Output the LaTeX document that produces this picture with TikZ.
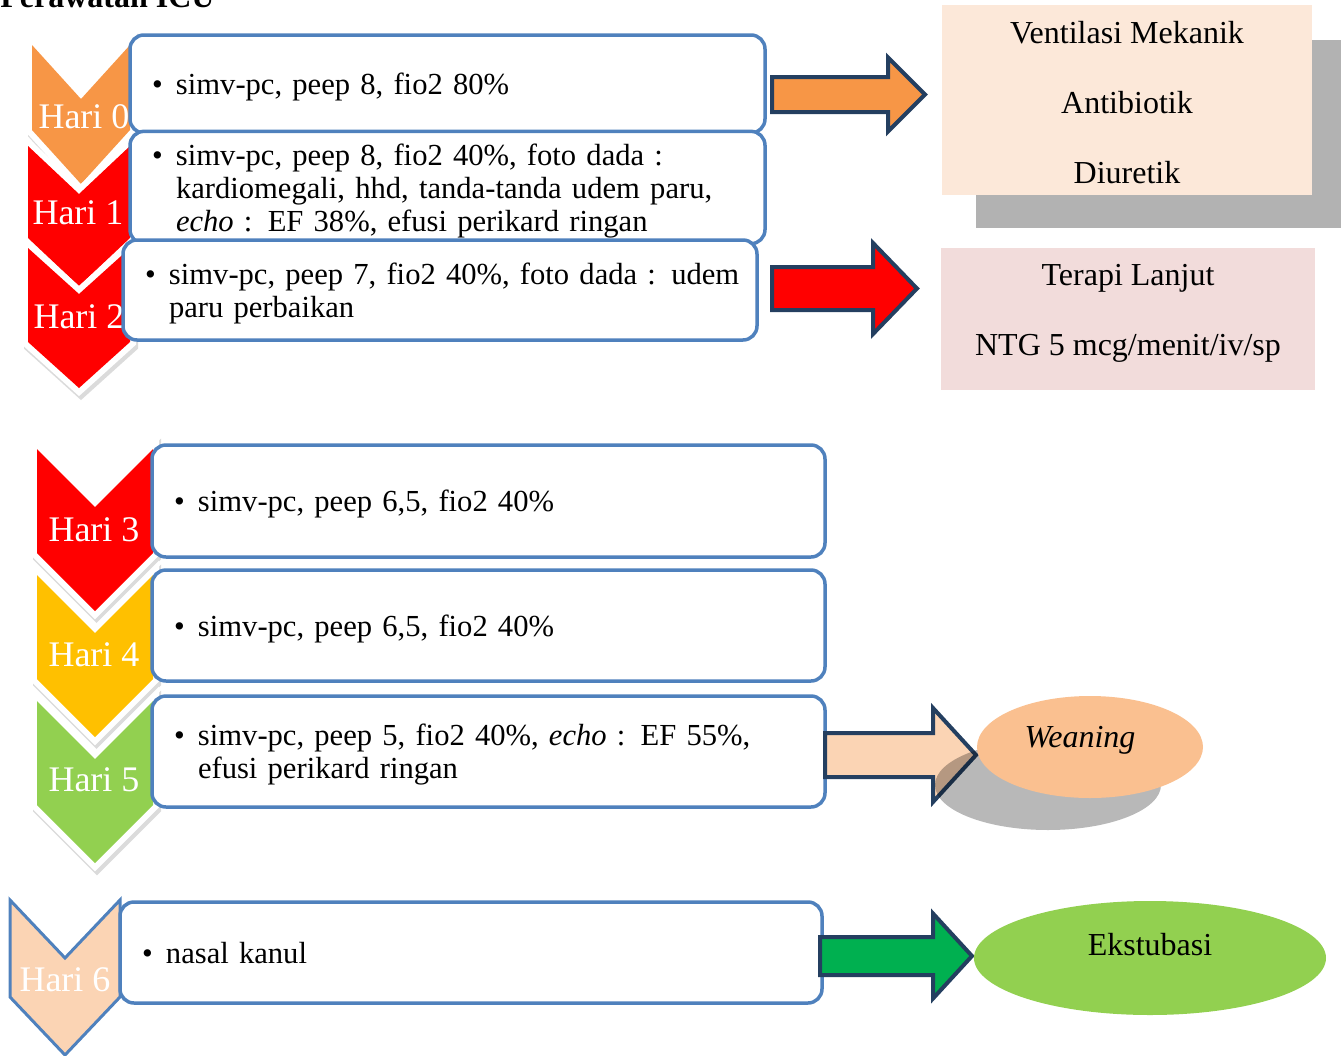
\documentclass[tikz,border=0pt]{standalone}
\usepackage{fontspec}
\setmainfont{Liberation Serif}
\usetikzlibrary{shapes.geometric, calc, positioning}

\definecolor{boxblue}{HTML}{4F81BD}
\definecolor{navy}{HTML}{243F60}
\definecolor{orangefill}{HTML}{F79646}
\definecolor{goldfill}{HTML}{FFC000}
\definecolor{limegreen}{HTML}{92D050}
\definecolor{darkgreen}{HTML}{00B050}
\definecolor{peach}{HTML}{FBD4B4}
\definecolor{vmfill}{HTML}{FCE8D9}
\definecolor{tlfill}{HTML}{F2DCDB}
\definecolor{weanfill}{HTML}{FAC090}
\definecolor{shadowgray}{HTML}{B2B2B2}

% chevron: centre x, top, half width, notch depth, height
\newcommand{\chevpath}[5]{(#1-#3,#2) -- (#1,#2+#4) -- (#1+#3,#2) -- (#1+#3,#2+#5-#4) -- (#1,#2+#5) -- (#1-#3,#2+#5-#4) -- cycle}
\newcommand{\chevron}[6]{%
  \filldraw[chevshadow, shift={(2,4)}] \chevpath{#1}{#2}{#3}{#4}{#5};
  \filldraw[chevhalo] \chevpath{#1}{#2}{#3}{#4}{#5};
  \fill[#6] \chevpath{#1}{#2}{#3}{#4}{#5};}
% block arrow: fill, from, to, shaft half, head half, head length
\newcommand{\blockarrow}[6]{%
  \filldraw[barrow, fill=#1] let \p1=(#2), \p2=(#3) in
    (\x1,\y1+#4*0.5pt) -- (\x2-#6*0.5pt,\y1+#4*0.5pt) -- (\x2-#6*0.5pt,\y1+#5*0.5pt) -- (\x2,\y1)
    -- (\x2-#6*0.5pt,\y1-#5*0.5pt) -- (\x2-#6*0.5pt,\y1-#4*0.5pt) -- (\x1,\y1-#4*0.5pt) -- cycle;}
\newcommand{\itm}[1]{\raisebox{-2pt}[\height][\depth]{\makebox[12pt][l]{\textbullet}\begin{tabular}[t]{@{}l@{}}#1\end{tabular}}}

\begin{document}
\begin{tikzpicture}[x=0.5pt, y=-0.5pt]
    \tikzstyle{chevshadow} = [fill=black!14, draw=black!14, line width=6pt, line join=miter]
    \tikzstyle{chevhalo} = [fill=white, draw=white, line width=6pt, line join=miter]
    \tikzstyle{hari} = [text=white, font=\fontsize{18}{20}\selectfont, inner sep=0pt]
    \tikzstyle{txtbox} = [rectangle, rounded corners=7pt, draw=boxblue, line width=1.75pt, fill=white, inner xsep=11pt, align=left, font=\fontsize{15.3}{16.5}\selectfont]
    \tikzstyle{rbox} = [rectangle, inner sep=0pt]
    \tikzstyle{rtext} = [align=center, font=\fontsize{16}{18}\selectfont, inner sep=0pt]
    \tikzstyle{barrow} = [draw=navy, line width=2pt, line join=miter]
    \tikzstyle{oval} = [ellipse, inner sep=0pt]

    \useasboundingbox (0,0) rectangle (1341,1056);

    \node[anchor=base west, font=\bfseries\fontsize{16}{18}\selectfont, inner sep=0pt] (title) at (0,7) {Perawatan ICU};

    \chevron{81}{45}{49}{54}{139}{orangefill}
    \node[hari] (h0) at (84,117) {Hari 0};
    \chevron{79}{146}{51}{48}{140}{red}
    \node[hari] (h1) at (78,213) {Hari 1};
    \chevron{79}{248}{51}{46}{140}{red}
    \node[hari] (h2) at (79,317) {Hari 2};

    \chevron{95}{449}{58}{58}{162}{red}
    \node[hari] (h3) at (94,530) {Hari 3};
    \chevron{95}{575}{58}{58}{162}{goldfill}
    \node[hari] (h4) at (94,655) {Hari 4};
    \chevron{95}{701}{58}{58}{162}{limegreen}
    \node[hari] (h5) at (94,780) {Hari 5};

    \filldraw[fill=peach, draw=boxblue, line width=1.5pt, line join=miter] \chevpath{65}{900}{55}{58}{155};
    \node[hari] (h6) at (65,980) {Hari 6};

    \node[txtbox, minimum width=317.5pt, minimum height=49pt, text width=295.5pt] (b0) at (447.5,84) {\itm{simv-pc, peep 8, fio2 80\%}};
    \node[txtbox, minimum width=317.5pt, minimum height=49.5pt, text width=295.5pt] (b1) at (447.5,187.5) {\itm{simv-pc, peep 8, fio2 40\%, foto dada :\\kardiomegali, hhd, tanda-tanda udem paru,\\\textit{echo} : EF 38\%, efusi perikard ringan}};
    \node[txtbox, minimum width=317pt, minimum height=50pt, text width=295pt] (b2) at (440,290) {\itm{simv-pc, peep 7, fio2 40\%, foto dada : udem\\paru perbaikan}};

    \node[txtbox, minimum width=336.5pt, minimum height=56pt, text width=314.5pt] (b3) at (488.5,501) {\itm{simv-pc, peep 6,5, fio2 40\%}};
    \node[txtbox, minimum width=336.5pt, minimum height=55.5pt, text width=314.5pt] (b4) at (488.5,625.5) {\itm{simv-pc, peep 6,5, fio2 40\%}};
    \node[txtbox, minimum width=336.5pt, minimum height=55.5pt, text width=314.5pt] (b5) at (488.5,751.5) {\itm{simv-pc, peep 5, fio2 40\%, \textit{echo} : EF 55\%,\\efusi perikard ringan}};

    \node[txtbox, minimum width=351pt, minimum height=50.5pt, text width=329pt] (b6) at (471,952.5) {\itm{nasal kanul}};

    \fill[shadowgray] (976,40) rectangle (1341,228);
    \node[rbox, fill=vmfill, minimum width=185pt, minimum height=95pt] (vm) at (1127,100) {};
    \node[rtext] (vmtx) at (1127,103) {Ventilasi Mekanik\\[17pt]Antibiotik\\[17pt]Diuretik};
    \node[rbox, fill=tlfill, minimum width=187pt, minimum height=71pt] (tl) at (1128,319) {};
    \node[rtext] (tltx) at (1128,313) {Terapi Lanjut\\[17pt]NTG 5 mcg/menit/iv/sp};

    \coordinate (a0s) at (772,94.5);
    \coordinate (a0e) at (925,94.5);
    \blockarrow{orangefill}{a0s}{a0e}{17.5}{37}{37}
    \coordinate (a1s) at (772,288.5);
    \coordinate (a1e) at (917,288.5);
    \blockarrow{red}{a1s}{a1e}{21.5}{45.5}{44}

    \coordinate (a2s) at (825,755);
    \coordinate (a2e) at (976,755);
    \blockarrow{peach}{a2s}{a2e}{22}{47}{43}
    \node[oval, fill=black, fill opacity=0.28, minimum width=113pt, minimum height=45pt] (wsh) at (1048,785) {};
    \node[oval, fill=weanfill, minimum width=113pt, minimum height=51pt] (wean) at (1090,747) {};
    \node[rtext, font=\itshape\fontsize{16}{18}\selectfont] (weantx) at (1080,740) {Weaning};

    \coordinate (a3s) at (820,956);
    \coordinate (a3e) at (972,956);
    \blockarrow{darkgreen}{a3s}{a3e}{19}{42.5}{39}
    \node[oval, fill=limegreen, minimum width=176pt, minimum height=57pt] (ekst) at (1150,958) {};
    \node[rtext] (eksttx) at (1150,945) {Ekstubasi};
\end{tikzpicture}
\end{document}
